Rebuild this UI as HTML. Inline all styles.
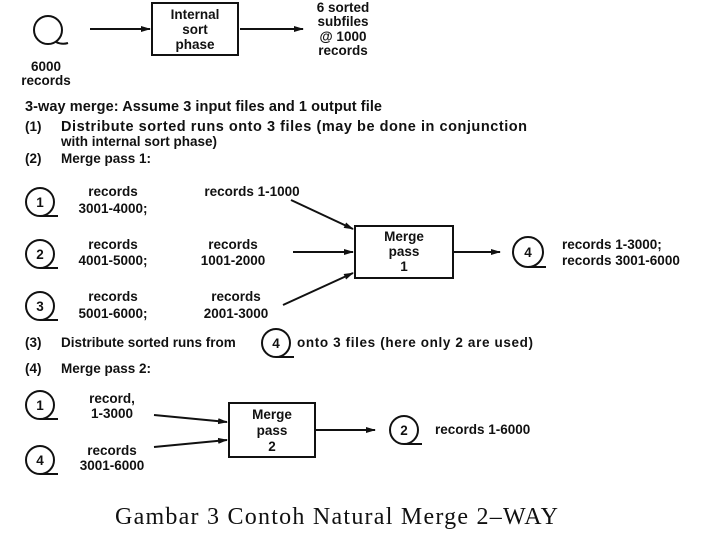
<!DOCTYPE html>
<html><head><style>
html,body{margin:0;padding:0;background:#fff;width:720px;height:540px;overflow:hidden}
svg text{font-family:"Liberation Sans",sans-serif;font-size:13.5px;font-weight:bold;fill:#111}
</style></head><body>
<svg width="720" height="540" viewBox="0 0 720 540" xmlns="http://www.w3.org/2000/svg">
<defs><marker id="a" markerWidth="10" markerHeight="8" refX="9" refY="4" orient="auto" markerUnits="userSpaceOnUse"><path d="M0,1 L10,4 L0,7 z" fill="#111"/></marker></defs>
<g stroke="#111" stroke-width="2" fill="none">
<circle cx="48" cy="30" r="14"/><path d="M56,42 Q62,45 68,43"/>
<line x1="90" y1="29" x2="150" y2="29" marker-end="url(#a)"/>
<rect x="152" y="3" width="86" height="52"/>
<line x1="240" y1="29" x2="303" y2="29" marker-end="url(#a)"/>
<circle cx="40" cy="202" r="14"/><path d="M40,216 L58,216"/>
<circle cx="40" cy="254" r="14"/><path d="M40,268 L58,268"/>
<circle cx="40" cy="306" r="14"/><path d="M40,320 L58,320"/>
<line x1="291" y1="200" x2="353" y2="229" marker-end="url(#a)"/>
<line x1="293" y1="252" x2="353" y2="252" marker-end="url(#a)"/>
<line x1="283" y1="305" x2="353" y2="273" marker-end="url(#a)"/>
<rect x="355" y="226" width="98" height="52"/>
<line x1="453" y1="252" x2="500" y2="252" marker-end="url(#a)"/>
<circle cx="528" cy="252" r="15"/><path d="M528,267 L546,267"/>
<circle cx="276" cy="343" r="14"/><path d="M276,357 L294,357"/>
<circle cx="40" cy="405" r="14"/><path d="M40,419 L58,419"/>
<circle cx="40" cy="460" r="14"/><path d="M40,474 L58,474"/>
<line x1="154" y1="415" x2="227" y2="422" marker-end="url(#a)"/>
<line x1="154" y1="447" x2="227" y2="440" marker-end="url(#a)"/>
<rect x="229" y="403" width="86" height="54"/>
<line x1="315" y1="430" x2="375" y2="430" marker-end="url(#a)"/>
<circle cx="404" cy="430" r="14"/><path d="M404,444 L422,444"/>
</g>
<g text-anchor="middle">
<text x="195" y="19">Internal</text><text x="195" y="34">sort</text><text x="195" y="49">phase</text>
<text x="343" y="12">6 sorted</text><text x="343" y="26">subfiles</text><text x="343" y="41">@ 1000</text><text x="343" y="55">records</text>
<text x="46" y="71">6000</text><text x="46" y="85">records</text>
<text x="40" y="207">1</text><text x="40" y="259">2</text><text x="40" y="311">3</text>
<text x="113" y="196">records</text><text x="113" y="213">3001-4000;</text>
<text x="113" y="249">records</text><text x="113" y="265">4001-5000;</text>
<text x="113" y="301">records</text><text x="113" y="318">5001-6000;</text>
<text x="252" y="196">records 1-1000</text>
<text x="233" y="249">records</text><text x="233" y="265">1001-2000</text>
<text x="236" y="301">records</text><text x="236" y="318">2001-3000</text>
<text x="404" y="241">Merge</text><text x="404" y="256">pass</text><text x="404" y="271">1</text>
<text x="528" y="257">4</text>
<text x="276" y="348">4</text>
<text x="40" y="410">1</text><text x="40" y="465">4</text>
<text x="112" y="403">record,</text><text x="112" y="418">1-3000</text>
<text x="112" y="455">records</text><text x="112" y="470">3001-6000</text>
<text x="272" y="419">Merge</text><text x="272" y="435">pass</text><text x="272" y="451">2</text>
<text x="404" y="435">2</text>
</g>
<text x="562" y="249">records 1-3000;</text><text x="562" y="265">records 3001-6000</text>
<text x="25" y="111" style="font-size:14.5px" textLength="357">3-way merge: Assume 3 input files and 1 output file</text>
<text x="25" y="131">(1)</text><text x="61" y="131" style="font-size:14.5px" textLength="466">Distribute sorted runs onto 3 files (may be done in conjunction</text>
<text x="61" y="146">with internal sort phase)</text>
<text x="25" y="163">(2)</text><text x="61" y="163">Merge pass 1:</text>
<text x="25" y="347">(3)</text><text x="61" y="347">Distribute sorted runs from</text><text x="297" y="347" textLength="236">onto 3 files (here only 2 are used)</text>
<text x="25" y="373">(4)</text><text x="61" y="373">Merge pass 2:</text>
<text x="435" y="434">records 1-6000</text>
<text x="115" y="524" textLength="443" style="font-family:'Liberation Serif',serif;font-size:24px;font-weight:normal">Gambar  3  Contoh Natural Merge 2–WAY</text>
</svg>
</body></html>
